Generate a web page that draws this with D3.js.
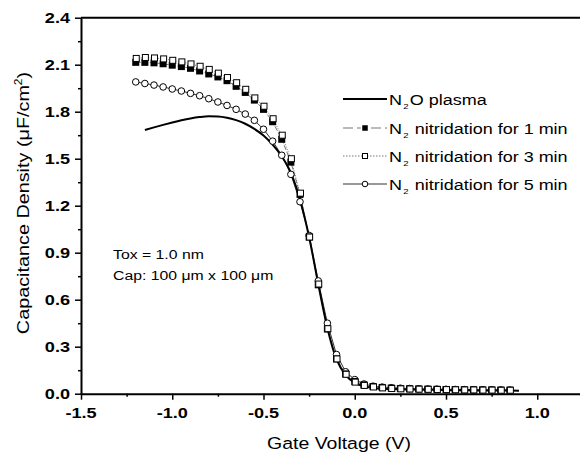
<!DOCTYPE html>
<html lang="en">
<head>
<meta charset="utf-8">
<script src="https://d3js.org/d3.v7.min.js"></script>
<style>
    body { margin: 0; background: #fff; }
    text { font-family: "Liberation Sans", Arial, sans-serif; fill: #000; }
</style>
</head>
<body>
<script>

    // gate voltage grid of the measured points (V)
    const voltages = [-1.2, -1.15, -1.1, -1.05, -1.0, -0.95, -0.9, -0.85, -0.8, -0.75,
        -0.7, -0.65, -0.6, -0.55, -0.5, -0.45, -0.4, -0.35, -0.3, -0.25,
        -0.2, -0.15, -0.1, -0.05, 0.0, 0.05, 0.1, 0.15, 0.2, 0.25,
        0.3, 0.35, 0.4, 0.45, 0.5, 0.55, 0.6, 0.65, 0.7, 0.75, 0.8, 0.85];

    // N2 nitridation for 1 min (filled squares)
    const oneMin = [2.115, 2.115, 2.112, 2.106, 2.097, 2.088, 2.077, 2.06, 2.041, 2.022,
        1.998, 1.962, 1.923, 1.874, 1.815, 1.736, 1.624, 1.478, 1.272, 1.0,
        0.695, 0.413, 0.222, 0.126, 0.078, 0.056, 0.046, 0.04, 0.036, 0.033,
        0.031, 0.03, 0.029, 0.028, 0.027, 0.026, 0.025, 0.025, 0.024, 0.024, 0.023, 0.023];

    // N2 nitridation for 3 min (open squares)
    const threeMin = [2.14, 2.146, 2.143, 2.137, 2.128, 2.118, 2.105, 2.09, 2.07, 2.046,
        2.018, 1.985, 1.943, 1.888, 1.835, 1.755, 1.65, 1.5, 1.28, 1.0,
        0.7, 0.415, 0.222, 0.124, 0.074, 0.053, 0.043, 0.037, 0.033, 0.031,
        0.03, 0.029, 0.028, 0.027, 0.026, 0.025, 0.024, 0.024, 0.023, 0.023, 0.022, 0.022];

    // N2 nitridation for 5 min (open circles)
    const fiveMin = [1.99, 1.98, 1.97, 1.958, 1.945, 1.932, 1.917, 1.902, 1.883, 1.862,
        1.84, 1.815, 1.785, 1.745, 1.688, 1.612, 1.522, 1.4, 1.225, 1.01,
        0.72, 0.45, 0.25, 0.14, 0.09, 0.062, 0.048, 0.042, 0.038, 0.035,
        0.033, 0.031, 0.03, 0.029, 0.028, 0.027, 0.026, 0.025, 0.025, 0.024, 0.024, 0.023];

    // N2O plasma (solid line)
    const n2oVoltages = [-1.15, -1.1, -1.05, -1.0, -0.95, -0.9, -0.85, -0.8, -0.75, -0.7,
        -0.65, -0.6, -0.55, -0.5, -0.45, -0.4, -0.35, -0.3, -0.25, -0.2,
        -0.15, -0.1, -0.05, 0.0, 0.05, 0.1, 0.15, 0.2, 0.25, 0.3,
        0.35, 0.4, 0.45, 0.5, 0.55, 0.6, 0.65, 0.7, 0.75, 0.8, 0.85, 0.9];
    const n2oPlasma = [1.683, 1.7, 1.716, 1.731, 1.745, 1.757, 1.766, 1.771, 1.77, 1.762,
        1.746, 1.723, 1.69, 1.648, 1.59, 1.515, 1.41, 1.24, 1.0, 0.7,
        0.42, 0.22, 0.118, 0.07, 0.047, 0.037, 0.032, 0.03, 0.028, 0.027,
        0.026, 0.025, 0.024, 0.023, 0.022, 0.022, 0.021, 0.021, 0.02, 0.02, 0.02, 0.019];

    const xTicks = [-1.5, -1.0, -0.5, 0.0, 0.5, 1.0];
    const xMinor = [-1.25, -0.75, -0.25, 0.25, 0.75, 1.25];
    const yTicks = [0.0, 0.3, 0.6, 0.9, 1.2, 1.5, 1.8, 2.1, 2.4];
    const yMinor = [0.15, 0.45, 0.75, 1.05, 1.35, 1.65, 1.95, 2.25];

    const W = 580, H = 455;
    const mLeft = 81, mTop = 17.7, mBottom = 393.7;

    const svg = d3.select("body").append("svg")
        .attr("width", W).attr("height", H);

    const x = d3.scaleLinear().domain([-1.5, 1.3]).range([mLeft, mLeft + 2.8 * 182.5]);
    const y = d3.scaleLinear().domain([0, 2.4]).range([mBottom, mTop]);

    // stretched text helper (the original glyphs are wider than Arial)
    function label(g, tx, ty, str, size, weight, anchor, sx, rot) {
        const t = g.append("text")
            .attr("transform", `translate(${tx},${ty})` + (rot ? ` rotate(${rot})` : "") + ` scale(${sx},1)`)
            .attr("font-size", size)
            .attr("font-weight", weight)
            .attr("text-anchor", anchor);
        if (str) t.text(str);
        return t;
    }

    // frame: top line (right edge lies outside the picture)
    svg.append("line")
        .attr("x1", mLeft).attr("x2", x(1.3)).attr("y1", mTop).attr("y2", mTop)
        .attr("stroke", "#000").attr("stroke-width", 2);

    // axes
    svg.append("g")
        .attr("transform", `translate(0,${mBottom})`)
        .call(d3.axisBottom(x).tickValues(xMinor).tickSize(3).tickFormat(""))
        .call(g => g.select(".domain").remove())
        .selectAll("line").attr("stroke-width", 1.5);
    const xa = svg.append("g")
        .attr("transform", `translate(0,${mBottom})`)
        .call(d3.axisBottom(x).tickValues(xTicks).tickSize(6).tickSizeOuter(0).tickFormat(""));
    xa.select(".domain").attr("stroke-width", 2);
    xa.selectAll("line").attr("stroke-width", 1.5);

    svg.append("g")
        .attr("transform", `translate(${mLeft},0)`)
        .call(d3.axisLeft(y).tickValues(yMinor).tickSize(3).tickFormat(""))
        .call(g => g.select(".domain").remove())
        .selectAll("line").attr("stroke-width", 1.5);
    const ya = svg.append("g")
        .attr("transform", `translate(${mLeft},0)`)
        .call(d3.axisLeft(y).tickValues(yTicks).tickSize(6).tickSizeOuter(0).tickFormat(""));
    ya.select(".domain").attr("stroke-width", 2);
    ya.selectAll("line").attr("stroke-width", 1.5);

    // tick labels
    xTicks.forEach(v => label(svg, x(v), 418, d3.format(".1f")(v).replace("\u2212", "-"), 14.5, "bold", "middle", 1.25));
    yTicks.forEach(v => label(svg, 70, y(v) + 5, d3.format(".1f")(v), 14.5, "bold", "end", 1.25));

    // axis titles
    label(svg, 339, 449, "Gate Voltage (V)", 16.5, "normal", "middle", 1.18);
    const yt = label(svg, 29, 203, null, 16.5, "normal", "middle", 1.2, -90);
    yt.append("tspan").text("Capacitance Density (\u03bcF/cm");
    yt.append("tspan").attr("font-size", 10).attr("dy", -7).text("2");
    yt.append("tspan").attr("dy", 7).text(")");

    // series
    const pts = arr => arr.map((c, i) => [voltages[i], c]);
    const line = d3.line().x(d => x(d[0])).y(d => y(d[1]));

    svg.append("path")
        .datum(pts(fiveMin))
        .attr("fill", "none").attr("stroke", "#333").attr("stroke-width", 1)
        .attr("d", line);
    svg.append("path")
        .datum(pts(oneMin))
        .attr("fill", "none").attr("stroke", "#777").attr("stroke-width", 1)
        .attr("stroke-dasharray", "5,2")
        .attr("d", line);
    svg.append("path")
        .datum(pts(threeMin))
        .attr("fill", "none").attr("stroke", "#777").attr("stroke-width", 1)
        .attr("stroke-dasharray", "1,1.5")
        .attr("d", line);

    const smooth = d3.line().x(d => x(d[0])).y(d => y(d[1])).curve(d3.curveMonotoneX);
    svg.append("path")
        .datum(n2oPlasma.map((c, i) => [n2oVoltages[i], c]))
        .attr("fill", "none").attr("stroke", "#000").attr("stroke-width", 2)
        .attr("d", smooth);

    svg.append("g").selectAll("circle")
        .data(pts(fiveMin)).enter().append("circle")
        .attr("cx", d => x(d[0])).attr("cy", d => y(d[1]))
        .attr("r", 3.3)
        .attr("fill", "#fff").attr("stroke", "#000").attr("stroke-width", 1);

    const fs = 7;
    svg.append("g").selectAll("rect")
        .data(pts(oneMin)).enter().append("rect")
        .attr("x", d => x(d[0]) - fs / 2).attr("y", d => y(d[1]) - fs / 2)
        .attr("width", fs).attr("height", fs)
        .attr("fill", "#000");

    const os = 6;
    svg.append("g").selectAll("rect")
        .data(pts(threeMin)).enter().append("rect")
        .attr("x", d => x(d[0]) - os / 2 + 0.5).attr("y", d => y(d[1]) - os / 2)
        .attr("width", os).attr("height", os)
        .attr("fill", "#fff").attr("stroke", "#000").attr("stroke-width", 1);

    // legend
    const legendRows = ["N2O plasma", "N2 nitridation for 1 min", "N2 nitridation for 3 min", "N2 nitridation for 5 min"];
    const legY = [99, 128, 156, 184];
    const lx1 = 343, lx2 = 387, lmid = 365;
    const leg = svg.append("g");

    leg.append("line").attr("x1", lx1).attr("x2", lx2).attr("y1", legY[0]).attr("y2", legY[0])
        .attr("stroke", "#000").attr("stroke-width", 2);

    leg.append("line").attr("x1", lx1).attr("x2", lx2).attr("y1", legY[1]).attr("y2", legY[1])
        .attr("stroke", "#777").attr("stroke-width", 1.2).attr("stroke-dasharray", "10,4");
    leg.append("rect").attr("x", lmid - 3.5).attr("y", legY[1] - 3.5).attr("width", 7).attr("height", 7)
        .attr("fill", "#000").attr("stroke", "#fff").attr("stroke-width", 1.5);

    leg.append("line").attr("x1", lx1).attr("x2", lx2).attr("y1", legY[2]).attr("y2", legY[2])
        .attr("stroke", "#777").attr("stroke-width", 1).attr("stroke-dasharray", "1.5,1.5");
    leg.append("rect").attr("x", lmid - 2.5).attr("y", legY[2] - 2.5).attr("width", 5).attr("height", 5)
        .attr("fill", "#fff").attr("stroke", "#000").attr("stroke-width", 1);

    leg.append("line").attr("x1", lx1).attr("x2", lx2).attr("y1", legY[3]).attr("y2", legY[3])
        .attr("stroke", "#333").attr("stroke-width", 1.2);
    leg.append("circle").attr("cx", lmid).attr("cy", legY[3]).attr("r", 2.8)
        .attr("fill", "#fff").attr("stroke", "#000").attr("stroke-width", 1);

    legendRows.forEach((s, i) => {
        const t = label(leg, 389, legY[i] + 5.5, null, 15, "normal", "start", 1.2);
        t.append("tspan").text(s.slice(0, 1));
        t.append("tspan").attr("font-size", 8).attr("dy", 4).attr("dx", 1).text(s.slice(1, 2));
        t.append("tspan").attr("dy", -4).attr("dx", 1).text(s.slice(2));
    });

    // annotation
    label(svg, 113, 258.5, "Tox = 1.0 nm", 13.5, "normal", "start", 1.17);
    label(svg, 113, 280, "Cap: 100 \u03bcm x 100 \u03bcm", 13.5, "normal", "start", 1.17);

</script>
</body>
</html>
